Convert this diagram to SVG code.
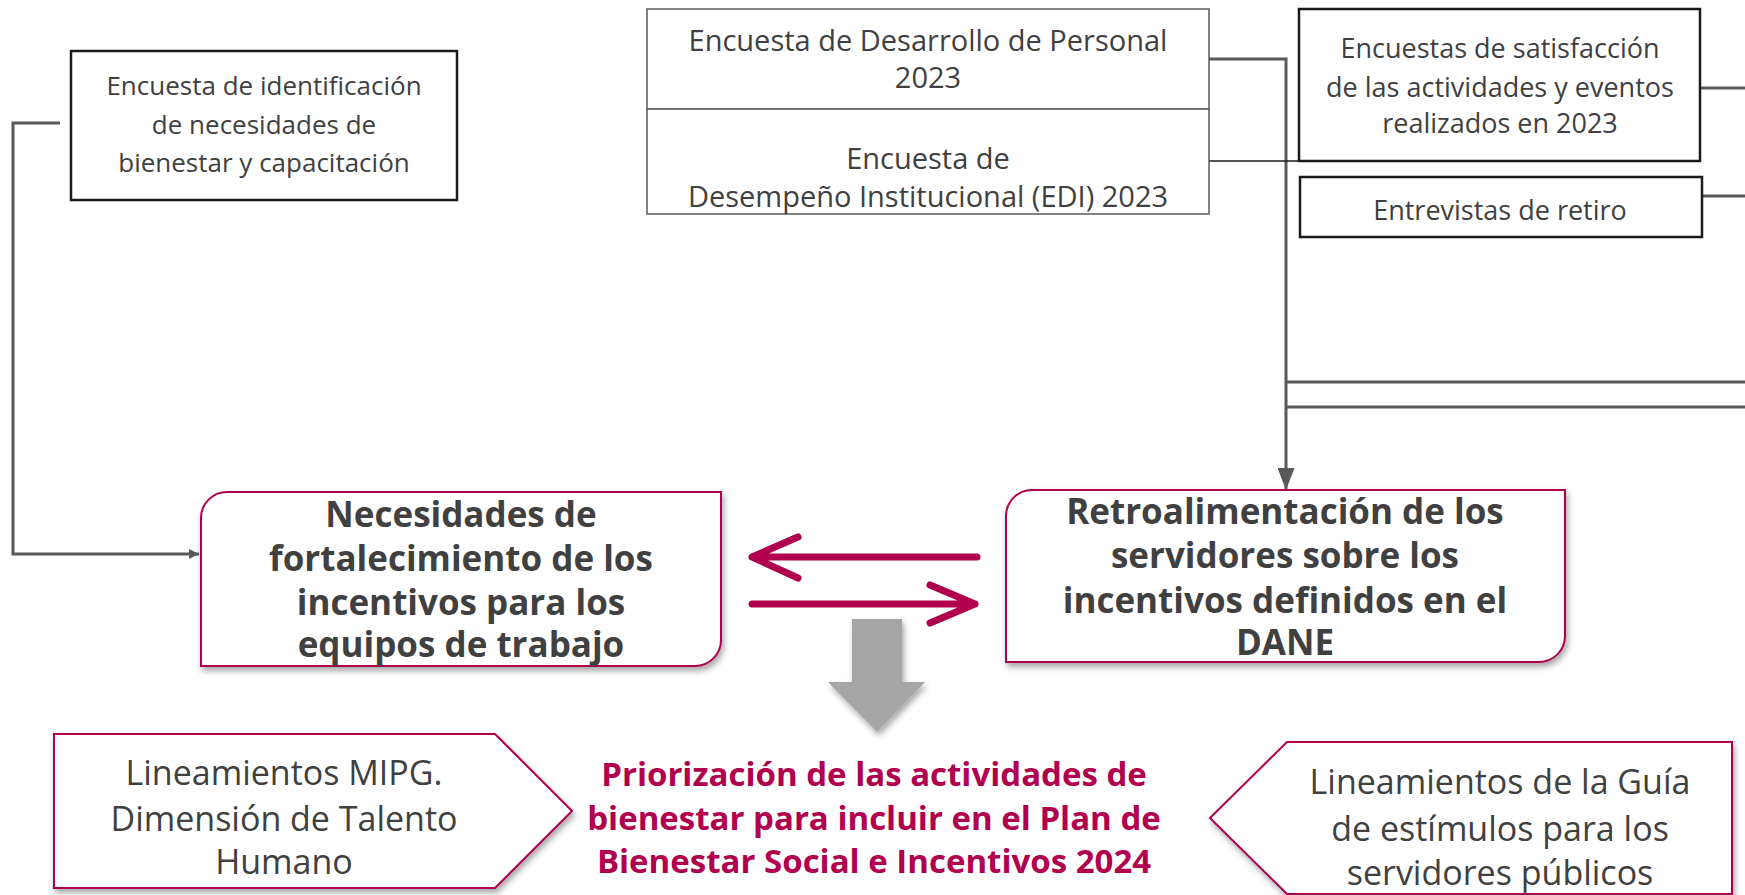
<svg xmlns="http://www.w3.org/2000/svg" width="1745" height="895" viewBox="0 0 1745 895">
<defs>
<style>
.t{font-family:"Open Sans","Noto Sans","Liberation Sans",sans-serif;fill:#404040;text-anchor:middle}
.b{font-weight:bold}
.red{fill:#B0004E}
.conn{fill:none;stroke:#595959;stroke-width:3}
.mag{fill:#fff;stroke:#B0004E;stroke-width:2}
.marr{fill:none;stroke:#B0004E;stroke-width:7;stroke-linecap:round;stroke-linejoin:round}
</style>
<marker id="ah" viewBox="0 0 10 10" refX="10" refY="5" markerWidth="10" markerHeight="10" markerUnits="userSpaceOnUse" orient="auto">
<path d="M0,0 L10,5 L0,10 Z" fill="#595959"/>
</marker>
<marker id="ah2" viewBox="0 0 10 10" refX="10" refY="5" markerWidth="22" markerHeight="17" markerUnits="userSpaceOnUse" orient="auto" preserveAspectRatio="none">
<path d="M0,0 L10,5 L0,10 Z" fill="#595959"/>
</marker>
<filter id="sh" x="-5%" y="-5%" width="110%" height="120%">
<feDropShadow dx="2" dy="4" stdDeviation="3" flood-color="#000" flood-opacity="0.35"/>
</filter>
</defs>

<g id="connectors">
<polyline class="conn" points="60,123 13,123 13,554 199,554" marker-end="url(#ah)"/>
<polyline class="conn" points="1209,59 1286,59 1286,490" marker-end="url(#ah2)"/>
<line x1="1209" y1="161" x2="1300" y2="161" stroke="#1a1a1a" stroke-width="1.5"/>
<line class="conn" x1="1700" y1="88" x2="1745" y2="88"/>
<line class="conn" x1="1702" y1="196" x2="1745" y2="196"/>
<line class="conn" x1="1286" y1="382" x2="1745" y2="382"/>
<line class="conn" x1="1286" y1="407" x2="1745" y2="407"/>
<g id="arrow-left">
<path class="marr" d="M977,557 H752 M798,537 L752,557 L798,578"/>
</g>
<g id="arrow-right">
<path class="marr" d="M752,604 H975 M930,585 L975,604 L930,623"/>
</g>
<g id="arrow-down" filter="url(#sh)">
<path d="M852,619 H902 V682 H925 L877,732 L828,682 H852 Z" fill="#A6A6A6"/>
</g>
</g>

<g id="n-identificacion">
<rect x="71" y="51" width="386" height="149" fill="#fff" stroke="#1a1a1a" stroke-width="2.5"/>
<text class="t" font-size="26" x="264" y="95">Encuesta de identificación</text>
<text class="t" font-size="26" x="264" y="134">de necesidades de</text>
<text class="t" font-size="26" x="264" y="172">bienestar y capacitación</text>
</g>

<g id="n-desarrollo">
<rect x="647" y="9" width="562" height="100" fill="#fff" stroke="#595959" stroke-width="1.5"/>
<text class="t" font-size="29" x="928" y="51">Encuesta de Desarrollo de Personal</text>
<text class="t" font-size="29" x="928" y="88">2023</text>
</g>
<g id="n-edi">
<rect x="647" y="109" width="562" height="105" fill="#fff" stroke="#595959" stroke-width="1.5"/>
<text class="t" font-size="29" x="928" y="169">Encuesta de</text>
<text class="t" font-size="29" x="928" y="207">Desempeño Institucional (EDI) 2023</text>
</g>

<g id="n-satisfaccion">
<rect x="1299" y="9" width="401" height="152" fill="#fff" stroke="#1a1a1a" stroke-width="2.5"/>
<text class="t" font-size="27" x="1500" y="58">Encuestas de satisfacción</text>
<text class="t" font-size="27" x="1500" y="97">de las actividades y eventos</text>
<text class="t" font-size="27" x="1500" y="133">realizados en 2023</text>
</g>

<g id="n-retiro">
<rect x="1300" y="177" width="402" height="60" fill="#fff" stroke="#1a1a1a" stroke-width="2.5"/>
<text class="t" font-size="27" x="1500" y="220">Entrevistas de retiro</text>
</g>

<g id="n-necesidades">
<path class="mag" filter="url(#sh)" d="M227,492 H721 V640 A26,26 0 0 1 695,666 H201 V518 A26,26 0 0 1 227,492 Z"/>
<text class="t b" font-size="35" x="461" y="527">Necesidades de</text>
<text class="t b" font-size="35" x="461" y="571">fortalecimiento de los</text>
<text class="t b" font-size="35" x="461" y="615">incentivos para los</text>
<text class="t b" font-size="35" x="461" y="657">equipos de trabajo</text>
</g>

<g id="n-retroalimentacion">
<path class="mag" filter="url(#sh)" d="M1032,490 H1565 V636 A26,26 0 0 1 1539,662 H1006 V516 A26,26 0 0 1 1032,490 Z"/>
<text class="t b" font-size="35" x="1285" y="524">Retroalimentación de los</text>
<text class="t b" font-size="35" x="1285" y="568">servidores sobre los</text>
<text class="t b" font-size="35" x="1285" y="613">incentivos definidos en el</text>
<text class="t b" font-size="35" x="1285" y="655">DANE</text>
</g>

<g id="n-mipg">
<path class="mag" filter="url(#sh)" d="M54,734 H495 L572,811 L495,888 H54 Z"/>
<text class="t" font-size="34" x="284" y="785">Lineamientos MIPG.</text>
<text class="t" font-size="34" x="284" y="831">Dimensión de Talento</text>
<text class="t" font-size="34" x="284" y="874">Humano</text>
</g>

<g id="n-priorizacion">
<text class="t b red" font-size="33" x="874" y="786">Priorización de las actividades de</text>
<text class="t b red" font-size="33" x="874" y="830">bienestar para incluir en el Plan de</text>
<text class="t b red" font-size="33" x="874" y="873">Bienestar Social e Incentivos 2024</text>
</g>

<g id="n-guia">
<path class="mag" filter="url(#sh)" d="M1287,742 H1732 V894 H1287 L1210,818 Z"/>
<text class="t" font-size="34" x="1500" y="794">Lineamientos de la Guía</text>
<text class="t" font-size="34" x="1500" y="841">de estímulos para los</text>
<text class="t" font-size="34" x="1500" y="885">servidores públicos</text>
</g>
</svg>
